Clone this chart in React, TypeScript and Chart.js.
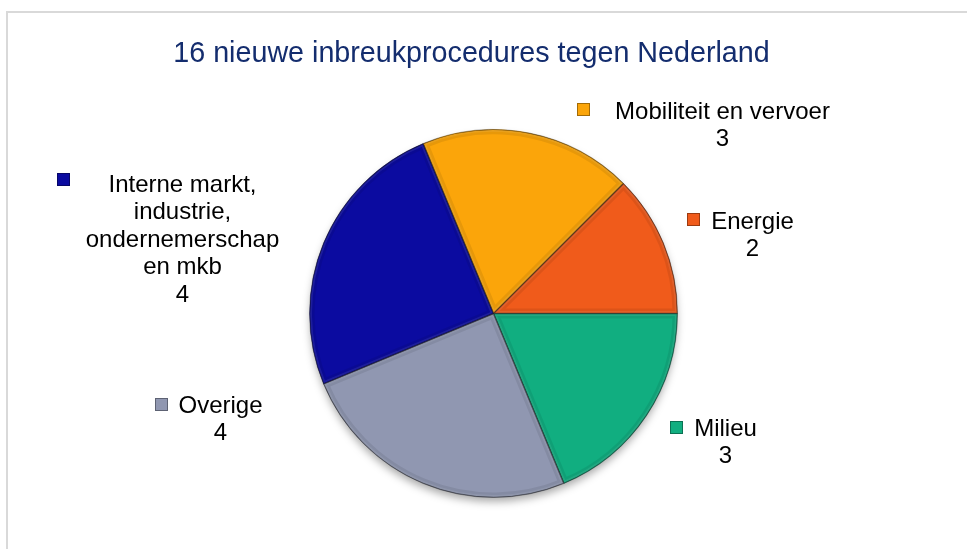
import React, { useEffect, useRef } from "react";
import { Chart, registerables } from "chart.js";

Chart.register(...registerables);

// ---- data ----
const TITLE = "16 nieuwe inbreukprocedures tegen Nederland";
const categories = [
  "Mobiliteit en vervoer",
  "Energie",
  "Milieu",
  "Overige",
  "Interne markt, industrie, ondernemerschap en mkb",
];
const labelLines = [
  ["Mobiliteit en vervoer"],
  ["Energie"],
  ["Milieu"],
  ["Overige"],
  ["Interne markt,", "industrie,", "ondernemerschap", "en mkb"],
];
const values = [3, 2, 3, 4, 4];

// ---- styles ----
const colors = ["#FBA50A", "#F05B1B", "#11AE80", "#9097B1", "#0B0BA0"];
// label text anchor (center x, first baseline) and legend-key centre, offsets from pie centre
const labelOffsets = [
  { tx: 229, ty: -195, kx: 90, ky: -204 },
  { tx: 259, ty: -85, kx: 200, ky: -94 },
  { tx: 232, ty: 122, kx: 183, ky: 114 },
  { tx: -273, ty: 99, kx: -332, ky: 91 },
  { tx: -311, ty: -122, kx: -430, ky: -134 },
];
const FONT = '"Liberation Sans", Arial, sans-serif';

const shadowPlugin = {
  id: "pieShadow",
  beforeDatasetsDraw(chart: any) {
    const el = chart.getDatasetMeta(0).data[0];
    if (!el) return;
    const ctx = chart.ctx;
    ctx.save();
    ctx.shadowColor = "rgba(0,0,0,0.35)";
    ctx.shadowBlur = 9;
    ctx.shadowOffsetY = 5;
    ctx.beginPath();
    ctx.arc(el.x, el.y, el.outerRadius - 1, 0, Math.PI * 2);
    ctx.fillStyle = "#ffffff";
    ctx.fill();
    ctx.restore();
  },
  afterDatasetsDraw(chart: any) {
    const ctx = chart.ctx;
    chart.getDatasetMeta(0).data.forEach((el: any) => {
      const { x, y, startAngle, endAngle, outerRadius } = el;
      ctx.save();
      ctx.beginPath();
      ctx.moveTo(x, y);
      ctx.arc(x, y, outerRadius, startAngle, endAngle);
      ctx.closePath();
      ctx.clip();
      ctx.lineJoin = "round";
      ctx.strokeStyle = "rgba(0,0,0,0.08)";
      ctx.lineWidth = 10;
      ctx.stroke();
      ctx.strokeStyle = "rgba(255,255,255,0.08)";
      ctx.lineWidth = 5;
      ctx.stroke();
      ctx.strokeStyle = "rgba(0,0,0,0.4)";
      ctx.lineWidth = 1.5;
      ctx.stroke();
      ctx.restore();
    });
  },
};

const labelPlugin = {
  id: "pieLabels",
  afterDraw(chart: any) {
    const ctx = chart.ctx;
    const el = chart.getDatasetMeta(0).data[0];
    if (!el) return;
    const cx = el.x;
    const cy = el.y;
    ctx.save();
    // title
    ctx.fillStyle = "#142D6E";
    ctx.font = `28.7px ${FONT}`;
    ctx.textAlign = "center";
    ctx.textBaseline = "alphabetic";
    ctx.fillText(TITLE, cx - 22, cy - 252);

    ctx.font = `24px ${FONT}`;
    labelLines.forEach((lines, i) => {
      const o = labelOffsets[i];
      const all = [...lines, String(values[i])];
      ctx.fillStyle = "#000000";
      all.forEach((t, k) => {
        ctx.fillText(t, cx + o.tx, cy + o.ty + k * 27.5);
      });
      // legend key
      const s = 13;
      const kx = cx + o.kx - s / 2;
      const ky = cy + o.ky - s / 2;
      ctx.fillStyle = colors[i];
      ctx.fillRect(kx, ky, s, s);
      ctx.strokeStyle = "rgba(0,0,0,0.35)";
      ctx.lineWidth = 1;
      ctx.strokeRect(kx + 0.5, ky + 0.5, s - 1, s - 1);
    });
    ctx.restore();
  },
};

export default function App() {
  const ref = useRef<HTMLCanvasElement | null>(null);
  useEffect(() => {
    if (!ref.current) return;
    const chart = new Chart(ref.current, {
      type: "pie",
      data: {
        labels: categories,
        datasets: [
          {
            data: values,
            backgroundColor: colors,
            borderColor: "rgba(0,0,0,0.3)",
            borderWidth: 1,
            hoverOffset: 0,
          },
        ],
      },
      options: {
        responsive: false,
        animation: false,
        rotation: -22.5,
        layout: { padding: { top: 129, bottom: 51, left: 309, right: 289 } },
        plugins: {
          legend: { display: false },
          tooltip: { enabled: false },
          title: { display: false },
        },
      },
      plugins: [shadowPlugin, labelPlugin],
    } as any);
    return () => chart.destroy();
  }, []);
  return (
    <div
      style={{
        position: "fixed",
        left: 0,
        top: 0,
        width: 967,
        height: 549,
        overflow: "hidden",
        background: "#ffffff",
      }}
    >
      <div
        style={{
          position: "absolute",
          left: 6,
          top: 11,
          width: 1200,
          height: 800,
          border: "2px solid #d9d9d9",
          boxSizing: "border-box",
        }}
      />
      <canvas
        ref={ref}
        width={967}
        height={549}
        style={{ position: "absolute", left: 0, top: 0, display: "block" }}
      />
    </div>
  );
}
